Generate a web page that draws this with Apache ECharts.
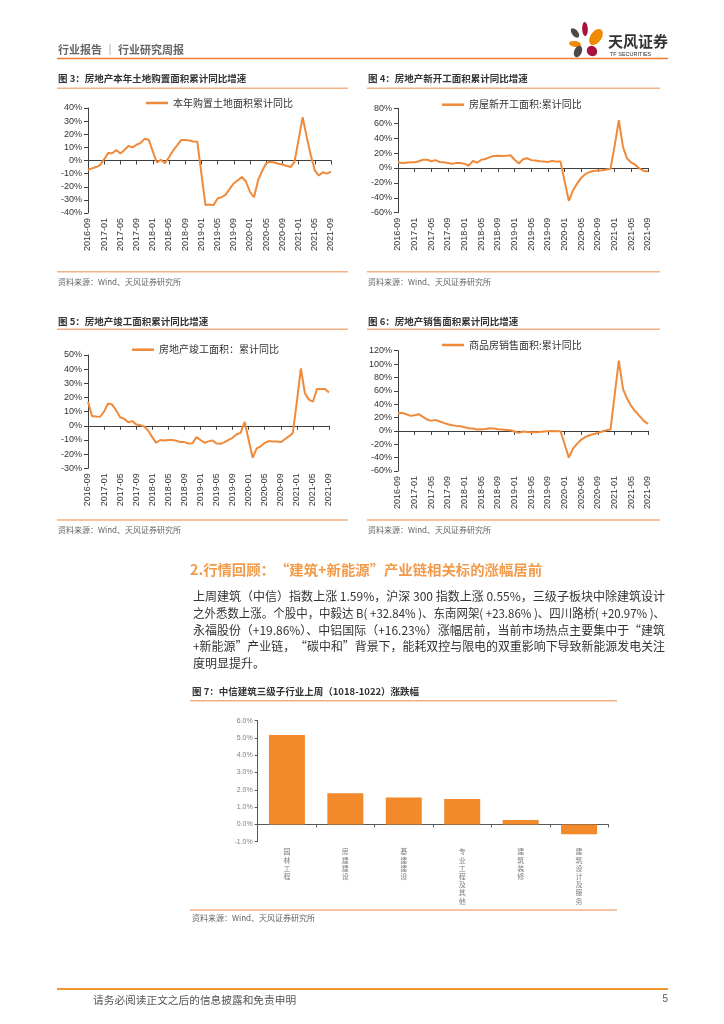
<!DOCTYPE html>
<html><head><meta charset="utf-8">
<script src="https://cdn.jsdelivr.net/npm/echarts/dist/echarts.min.js"></script>
<style>html,body{margin:0;padding:0;background:#fff}#c{width:724px;height:1024px}</style>
</head><body><div id="c"></div>
<script>
const months = ['2016-09','2016-10','2016-11','2016-12','2017-01','2017-02','2017-03','2017-04','2017-05','2017-06','2017-07','2017-08','2017-09','2017-10','2017-11','2017-12',
'2018-01','2018-02','2018-03','2018-04','2018-05','2018-06','2018-07','2018-08','2018-09','2018-10','2018-11','2018-12',
'2019-01','2019-02','2019-03','2019-04','2019-05','2019-06','2019-07','2019-08','2019-09','2019-10','2019-11','2019-12',
'2020-01','2020-02','2020-03','2020-04','2020-05','2020-06','2020-07','2020-08','2020-09','2020-10','2020-11','2020-12',
'2021-01','2021-02','2021-03','2021-04','2021-05','2021-06','2021-07','2021-08','2021-09'];

const landYoY = [-7,-6,-5,-3.5,1,5.8,5.5,8,5.3,8, 11,10,12,13.5,16.5,15.8,7,-1.5,0.5,-2, 2.5,7.5,11.5,15.6,15.6,15.3,14.5,14.2,-10,-34,
 -33.5,-34,-29,-28,-26,-21.5,-17.5,-15,-12.5,-16, -24,-28,-15,-8,-2,-1,-1.5,-2.5,-3,-4, -5,-1,16,33,18,4,-7.5,-11.5,-9,-10,-8.5];
const startsYoY = [8,6.5,7,7.5,7.5,9,11,11,9,10.5, 8,7.5,6.7,5.5,6.5,6.7,5.5,3,9.5,7, 11,12,14.5,16,16.5,16.2,16.5,17,11,6,
 11.7,13,10.5,10,9,8.5,8,9.5,8.5,8.5, -18,-44,-30,-21,-13,-8,-5.5,-4,-3.5,-3, -2,-1,30,64,28,12.5,7,4,-1,-4,-4.5];
const completionsYoY = [17,7,6.5,6.4,10,15.8,15,11,6,5, 2.5,3.3,1,0.5,-0.5,-3.5,-8,-12,-10,-10.3, -10,-10,-10.5,-11.5,-11.5,-12.5,-12.3,-8,-10,-12,
 -11,-10.3,-12.5,-12.7,-11.5,-10,-8.5,-6,-5,2.8, -10,-22.6,-16,-14.5,-12,-10.8,-11,-11,-11.5,-9.5, -7.5,-5,17,40.5,23,18.5,17,26,26,26,23.5];
const salesYoY = [26,27,25,22.5,23.5,25,21,17,15,16.5, 14,12,10,8.5,7.5,7,5.5,4,3.5,2, 2.5,3,4,3.5,2.5,2,1.5,1,-1,-3,
 -1,-1.5,-2,-2,-1.5,-1,-0.5,0,-0.5,-0.5, -20,-40,-26.5,-19,-13,-9,-6.5,-4.5,-3,-1, 1,2,54,105,63,48,37,29,22,15,10.5];

const subIndustries = ['园林工程','房建建设','基建建设','专业工程及其他','建筑装修','建筑设计及服务'];
const weeklyChange = [5.17, 1.80, 1.55, 1.47, 0.25, -0.57];

const lineNames = ['本年购置土地面积累计同比','房屋新开工面积:累计同比','房地产竣工面积：累计同比','商品房销售面积:累计同比'];
const chartTitles = ['图 3：房地产本年土地购置面积累计同比增速','图 4：房地产新开工面积累计同比增速','图 5：房地产竣工面积累计同比增速','图 6：房地产销售面积累计同比增速','图 7：中信建筑三级子行业上周（1018-1022）涨跌幅'];
const sourceText = '资料来源：Wind、天风证券研究所';
const headingText = '2.行情回顾：“建筑+新能源”产业链相关标的涨幅居前';
const paraLines = [
 '上周建筑（中信）指数上涨 1.59%，沪深 300 指数上涨 0.55%，三级子板块中除建筑设计',
 '之外悉数上涨。个股中，中毅达 B( +32.84% )、东南网架( +23.86% )、四川路桥( +20.97% )、',
 '永福股份（+19.86%）、中铝国际（+16.23%）涨幅居前，当前市场热点主要集中于“建筑',
 '+新能源”产业链，“碳中和”背景下，能耗双控与限电的双重影响下导致新能源发电关注',
 '度明显提升。'];

const ORANGE = '#EF8A3A';
const AXIS = '#404040';
const FONT = "Arial, 'Liberation Sans', 'Noto Sans CJK SC', sans-serif";
const CJK = "'Noto Sans CJK SC', sans-serif";

const chart = echarts.init(document.getElementById('c'), null, {renderer:'canvas'});
const mctx = document.createElement('canvas').getContext('2d');
function measure(t, font) { mctx.font = font; return mctx.measureText(t).width; }

const lineSpecs = [
  {data: landYoY, grid:{left:88, top:108, width:243, height:105}, y:[-40,40,10], legend:{left:146, top:98}},
  {data: startsYoY, grid:{left:398, top:108.3, width:250, height:104.4}, y:[-60,80,20], legend:{left:442, top:99.7}},
  {data: completionsYoY, grid:{left:88, top:355, width:241, height:113.3}, y:[-30,50,10], legend:{left:132, top:344.7}},
  {data: salesYoY, grid:{left:398, top:350.7, width:250, height:120.3}, y:[-60,120,20], legend:{left:442, top:340}}
];

const grids = [], xAxes = [], yAxes = [], series = [], legends = [];
lineSpecs.forEach((s, k) => {
  grids.push(Object.assign({outerBoundsMode:'none', containLabel:false}, s.grid));
  xAxes.push({type:'category', gridIndex:k, data:months, boundaryGap:false, position:'bottom',
    axisLine:{show:true, onZero:true, lineStyle:{color:AXIS, width:1}},
    axisTick:{show:true, interval:3, length:4, lineStyle:{color:AXIS}},
    axisLabel:{show:false}, splitLine:{show:false}});
  xAxes.push({type:'category', gridIndex:k, data:months, boundaryGap:false, position:'bottom',
    axisLine:{show:false, onZero:false}, axisTick:{show:false}, splitLine:{show:false},
    axisLabel:{show:true, interval:3, rotate:90, fontSize:9, color:'#333', fontFamily:FONT, margin:5}});
  yAxes.push({type:'value', gridIndex:k, min:s.y[0], max:s.y[1], interval:s.y[2],
    axisLine:{show:true, lineStyle:{color:AXIS}}, axisTick:{show:true, length:4, lineStyle:{color:AXIS}},
    splitLine:{show:false},
    axisLabel:{formatter:'{value}%', fontSize:9, color:'#333', fontFamily:FONT, margin:6}});
  series.push({type:'line', name:lineNames[k], xAxisIndex:2*k, yAxisIndex:k, data:s.data,
    symbol:'none', smooth:false, lineStyle:{color:ORANGE, width:2}, itemStyle:{color:ORANGE}, z:3});
  legends.push({left:s.legend.left, top:s.legend.top, data:[lineNames[k]], icon:'rect', itemWidth:22, itemHeight:2.5,
    itemGap:6, selectedMode:false, padding:0, textStyle:{fontSize:10, color:'#333', fontFamily:CJK}});
});

// Chart 7 bar chart
grids.push({left:257.7, top:720.7, width:350.6, height:121, outerBoundsMode:'none', containLabel:false});
xAxes.push({type:'category', gridIndex:4, data:subIndustries, boundaryGap:true, position:'bottom',
  axisLine:{show:true, onZero:true, lineStyle:{color:'#595959'}},
  axisTick:{show:true, alignWithLabel:false, interval:0, length:3, lineStyle:{color:'#595959'}},
  axisLabel:{show:false}, splitLine:{show:false}});
xAxes.push({type:'category', gridIndex:4, data:subIndustries, boundaryGap:true, position:'bottom',
  axisLine:{show:false, onZero:false}, axisTick:{show:false}, splitLine:{show:false},
  axisLabel:{show:true, interval:0, fontSize:7, lineHeight:8.2, color:'#7f7f7f', fontFamily:CJK, margin:6,
    formatter: v => v.split('').join('\n')}});
yAxes.push({type:'value', gridIndex:4, min:-1, max:6, interval:1,
  axisLine:{show:true, lineStyle:{color:'#595959'}}, axisTick:{show:true, length:3, lineStyle:{color:'#595959'}},
  splitLine:{show:false},
  axisLabel:{formatter: v => v.toFixed(1) + '%', fontSize:7, color:'#7f7f7f', fontFamily:FONT, margin:5}});
series.push({type:'bar', name:'涨跌幅', xAxisIndex:8, yAxisIndex:4, data:weeklyChange, barWidth:36,
  itemStyle:{color:'#F2892B'}});

// graphics
const G = [];
function txt(t, x, y, font, fill, align, targetW) {
  const el = {type:'text', silent:true, x:x, y:y,
    style:{text:t, x:0, y:0, font:font, fill:fill, textAlign:align||'left', textVerticalAlign:'middle'}};
  if (targetW) { const w = measure(t, font); if (w > 0) el.scaleX = targetW / w; }
  G.push(el);
}
function ln(x1, y1, x2, y2, color, w) {
  G.push({type:'line', silent:true, shape:{x1:x1, y1:y1, x2:x2, y2:y2}, style:{stroke:color, lineWidth:w}});
}
// header
txt('行业报告 │ 行业研究周报', 58, 50, "bold 11px " + CJK, '#666');
ln(57, 58.5, 668, 58.5, '#ED7D31', 1.5);
// logo
const petals = [
  {cx:575, cy:33, rx:3, ry:5.5, r:0.7, c:'#4a4a4a'},
  {cx:585, cy:29, rx:2.8, ry:7, r:0.05, c:'#A8123E'},
  {cx:596, cy:37, rx:5.5, ry:9, r:-0.6, c:'#F08A00'},
  {cx:575, cy:44, rx:6, ry:3, r:-0.15, c:'#F08A00'},
  {cx:578, cy:51.5, rx:3.8, ry:6, r:-0.4, c:'#4a4a4a'},
  {cx:592, cy:51, rx:5, ry:5.5, r:0.6, c:'#A8123E'}
];
petals.forEach(p => G.push({type:'ellipse', silent:true, shape:{cx:0, cy:0, rx:p.rx, ry:p.ry}, x:p.cx, y:p.cy, rotation:p.r, style:{fill:p.c}}));
txt('天风证券', 608, 41, "bold 15px " + CJK, '#333');
txt('TF SECURITIES', 610, 54, "5.5px " + FONT, '#333');

// chart frames
const frames = [
  {x1:57, x2:348, title:78, sep:88.3, src:281.7, srcLine:271.7, tx:58},
  {x1:367, x2:660, title:78, sep:88.3, src:281.7, srcLine:271.7, tx:368},
  {x1:57, x2:348, title:321.7, sep:329.3, src:530, srcLine:520, tx:58},
  {x1:367, x2:660, title:321.7, sep:329.3, src:530, srcLine:520, tx:368},
  {x1:190, x2:617, title:691.7, sep:700.7, src:918, srcLine:910, tx:192}
];
frames.forEach((f, i) => {
  txt(chartTitles[i], f.tx, f.title, "bold 9.5px " + CJK, '#333');
  ln(f.x1, f.sep, f.x2, f.sep, '#F4B183', 1.5);
  ln(f.x1, f.srcLine, f.x2, f.srcLine, '#F4B183', 1.5);
  txt(sourceText, f.tx, f.src, "8px " + CJK, '#666');
});

// heading & paragraph
txt(headingText, 190, 570, "bold 14px " + CJK, '#F39A4A', 'left', 352);
paraLines.forEach((l, i) => txt(l, 193, 596.7 + i * 16.7, "12px " + CJK, '#333', 'left', i < paraLines.length - 1 ? 472 : null));

// footer
ln(57, 989, 668, 989, '#F0962F', 2);
txt('请务必阅读正文之后的信息披露和免责申明', 93, 999.5, "10.7px " + CJK, '#555');
txt('5', 668, 999.5, "10px " + FONT, '#555', 'right');

chart.setOption({
  backgroundColor:'#fff',
  animation:false,
  grid:grids, xAxis:xAxes, yAxis:yAxes, series:series, legend:legends,
  graphic:{elements:G}
});
</script></body></html>
